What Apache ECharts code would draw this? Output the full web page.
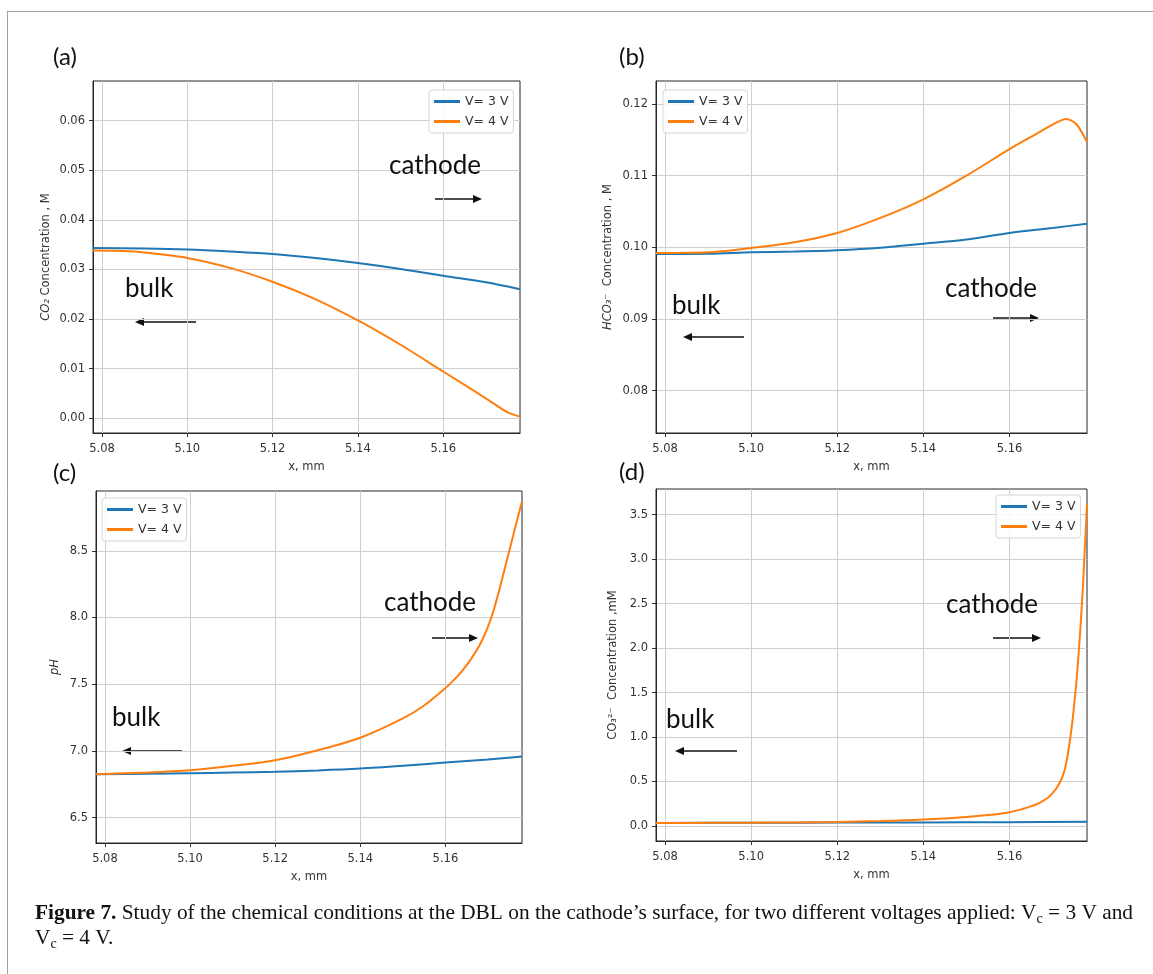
<!DOCTYPE html>
<html><head><meta charset="utf-8">
<script src="https://cdn.jsdelivr.net/npm/echarts@6/dist/echarts.min.js"></script>
<style>html,body{margin:0;padding:0;background:#fff}#c{width:1153px;height:974px}</style>
</head><body><div id="c"></div>
<script>
// ---------- data ----------
const X_TICKS = [5.08, 5.10, 5.12, 5.14, 5.16];
const A_TICKS = [0.00, 0.01, 0.02, 0.03, 0.04, 0.05, 0.06];
const B_TICKS = [0.08, 0.09, 0.10, 0.11, 0.12];
const C_TICKS = [6.5, 7.0, 7.5, 8.0, 8.5];
const D_TICKS = [0.0, 0.5, 1.0, 1.5, 2.0, 2.5, 3.0, 3.5];
const SERIES_NAMES = ['V= 3 V', 'V= 4 V'];

// (a) CO2 concentration, M
const xA3 = [5.0779, 5.09, 5.10, 5.11, 5.12, 5.13, 5.14, 5.15, 5.16, 5.17, 5.178];
const a3  = [0.0343, 0.0342, 0.0340, 0.0336, 0.0331, 0.0323, 0.0313, 0.0301, 0.0287, 0.0274, 0.0260];
const xA4 = [5.0779, 5.085, 5.09, 5.10, 5.11, 5.12, 5.13, 5.14, 5.15, 5.16, 5.17, 5.175, 5.178];
const a4  = [0.0338, 0.0337, 0.0334, 0.0323, 0.0303, 0.0275, 0.0240, 0.0197, 0.0148, 0.0094, 0.0040, 0.0012, 0.0003];

// (b) HCO3- concentration, M
const xB3 = [5.0779, 5.09, 5.10, 5.11, 5.12, 5.13, 5.14, 5.15, 5.16, 5.17, 5.178];
const b3  = [0.09907, 0.0991, 0.0993, 0.0994, 0.0996, 0.09995, 0.1005, 0.1011, 0.1020, 0.1027, 0.1033];
const xB4 = [5.0779, 5.09, 5.10, 5.11, 5.12, 5.13, 5.14, 5.15, 5.16, 5.165, 5.17, 5.172, 5.1731, 5.1755, 5.178];
const b4  = [0.0992, 0.0993, 0.0999, 0.1007, 0.1020, 0.1041, 0.1067, 0.1100, 0.1137, 0.1154, 0.1171, 0.1177, 0.1179, 0.1172, 0.1147];

// (c) pH
const xC3 = [5.0779, 5.09, 5.10, 5.11, 5.12, 5.13, 5.14, 5.15, 5.16, 5.17, 5.178];
const c3  = [6.825, 6.828, 6.832, 6.837, 6.843, 6.853, 6.867, 6.888, 6.912, 6.935, 6.957];
const xC4 = [5.0779, 5.09, 5.10, 5.11, 5.12, 5.13, 5.14, 5.15, 5.155, 5.16, 5.162, 5.164, 5.166, 5.168, 5.169, 5.170, 5.171, 5.172, 5.173, 5.174, 5.175, 5.176, 5.177, 5.178];
const c4  = [6.825, 6.838, 6.855, 6.888, 6.93, 7.005, 7.098, 7.243, 7.34, 7.47, 7.532, 7.602, 7.688, 7.79, 7.855, 7.93, 8.02, 8.128, 8.248, 8.373, 8.498, 8.623, 8.748, 8.87];

// (d) CO3 2- concentration, mM
const xD3 = [5.0779, 5.10, 5.12, 5.14, 5.16, 5.178];
const d3  = [0.034, 0.036, 0.038, 0.040, 0.043, 0.046];
const xD4 = [5.0779, 5.09, 5.10, 5.11, 5.12, 5.13, 5.14, 5.15, 5.155, 5.16, 5.163, 5.165, 5.167, 5.169, 5.170, 5.171, 5.172, 5.1725, 5.173, 5.1735, 5.174, 5.1745, 5.175, 5.1755, 5.176, 5.1765, 5.177, 5.1775, 5.178];
const d4  = [0.034, 0.035, 0.037, 0.040, 0.045, 0.055, 0.072, 0.100, 0.122, 0.155, 0.19, 0.22, 0.26, 0.32, 0.37, 0.43, 0.52, 0.58, 0.67, 0.79, 0.95, 1.13, 1.35, 1.60, 1.90, 2.25, 2.65, 3.12, 3.62];

const X_RANGE = [5.0779, 5.178];
const Y_RANGES = [[-0.003, 0.068], [0.0741, 0.1232], [6.309, 8.948], [-0.169, 3.788]];

// ---------- styling ----------
const FONT = 'DejaVu Sans';
const ANNOT_FONT = 'Lato';
const BLUE = '#1f77b4', ORANGE = '#ff7f0e';
const TICK_FS = 11.5;

const grids = [
  {left: 93,  top: 81,  width: 427, height: 352},
  {left: 656, top: 81,  width: 431, height: 352},
  {left: 96,  top: 491, width: 426, height: 352},
  {left: 656, top: 489, width: 431, height: 352}
].map(g => Object.assign(g, {show: true, borderColor: '#262626', borderWidth: 1, backgroundColor: '#fff'}));

function xAxisFor(i) {
  return {
    type: 'value', gridIndex: i, min: X_RANGE[0], max: X_RANGE[1],
    name: 'x, mm', nameLocation: 'middle', nameGap: 28,
    nameTextStyle: {fontSize: TICK_FS, color: '#333', fontFamily: FONT},
    axisLine: {show: true, onZero: false, lineStyle: {color: '#262626'}},
    axisTick: {show: true, length: 4, customValues: X_TICKS, lineStyle: {color: '#333'}},
    axisLabel: {customValues: X_TICKS, formatter: v => v.toFixed(2), margin: 10, fontSize: TICK_FS, color: '#333', fontFamily: FONT},
    splitLine: {show: true, lineStyle: {color: '#cfcfcf', width: 1}}
  };
}
function yAxisFor(i, ticks, dec, name, gap, rich) {
  return {
    type: 'value', gridIndex: i, min: Y_RANGES[i][0], max: Y_RANGES[i][1],
    name: name, nameLocation: 'middle', nameGap: gap, nameRotate: 90,
    nameTextStyle: {fontSize: TICK_FS, color: '#333', fontFamily: FONT, rich: rich || {}},
    axisLine: {show: true, onZero: false, lineStyle: {color: '#262626'}},
    axisTick: {show: true, length: 4, customValues: ticks, lineStyle: {color: '#333'}},
    axisLabel: {customValues: ticks, formatter: v => v.toFixed(dec), margin: 8, fontSize: TICK_FS, color: '#333', fontFamily: FONT},
    splitLine: {show: true, lineStyle: {color: '#cfcfcf', width: 1}}
  };
}
const italic = {i: {fontStyle: 'italic', fontSize: TICK_FS, color: '#333', fontFamily: FONT}};

function pairs(xs, ys) { return xs.map((x, k) => [x, ys[k]]); }
function line(i, name, xs, ys, color) {
  return {
    type: 'line', name: name, xAxisIndex: i, yAxisIndex: i, data: pairs(xs, ys),
    showSymbol: false, symbol: 'none', smooth: 0.3,
    lineStyle: {color: color, width: 2}, itemStyle: {color: color}, z: 3
  };
}
function legendAt(left, top) {
  return {
    data: SERIES_NAMES, left: left, top: top, orient: 'vertical',
    icon: 'rect', itemWidth: 26, itemHeight: 3, itemGap: 7, itemTextGap: 6,
    padding: [5, 5, 5, 5], backgroundColor: 'rgba(255,255,255,0.85)',
    borderColor: '#d6d6d6', borderWidth: 1, borderRadius: 3,
    textStyle: {fontSize: 12.5, color: '#333', fontFamily: FONT}, selectedMode: false
  };
}

function arrow(x1, y1, x2, y2) {
  const dir = Math.sign(x2 - x1);
  const hl = 9, hw = 4;
  return {
    type: 'group', children: [
      {type: 'line', shape: {x1: x1, y1: y1, x2: x2 - dir * hl * 0.6, y2: y2}, style: {stroke: '#111', lineWidth: 1.6}},
      {type: 'polygon', shape: {points: [[x2, y2], [x2 - dir * hl, y2 - hw], [x2 - dir * hl, y2 + hw]]}, style: {fill: '#111'}}
    ]
  };
}
function txtXY(x, y, s, size) {
  return {type: 'text', x: x, y: y, style: {text: s, fontSize: size, fontFamily: ANNOT_FONT, fill: '#111', verticalAlign: 'middle', align: 'left'}};
}

const graphics = [
  {type: 'line', shape: {x1: 7, y1: 11.5, x2: 1153, y2: 11.5}, style: {stroke: '#a0a0a0', lineWidth: 1}},
  {type: 'line', shape: {x1: 7.5, y1: 11, x2: 7.5, y2: 974}, style: {stroke: '#a0a0a0', lineWidth: 1}},
  txtXY(53, 57, '(a)', 24), txtXY(619, 57, '(b)', 24), txtXY(53, 473, '(c)', 24), txtXY(619, 472, '(d)', 24),
  txtXY(389, 166, 'cathode', 26), txtXY(125, 289, 'bulk', 26),
  arrow(435, 199, 482, 199), arrow(196, 322, 135, 322),
  txtXY(945, 289, 'cathode', 26), txtXY(672, 306, 'bulk', 26),
  arrow(993, 318, 1039, 318), arrow(744, 337, 683, 337),
  txtXY(384, 603, 'cathode', 26), txtXY(112, 718, 'bulk', 26),
  arrow(432, 638, 478, 638), arrow(182, 751, 122, 751),
  txtXY(946, 605, 'cathode', 26), txtXY(666, 720, 'bulk', 26),
  arrow(993, 638, 1041, 638), arrow(737, 751, 675, 751),
  {type: 'text', x: 35, y: 901, style: {
    text: '{b|Figure 7.} Study of the chemical conditions at the DBL on the cathode’s surface, for two different voltages applied: V{s|c} = 3 V and\nV{s|c} = 4 V.',
    fontSize: 21.35, fontFamily: 'Liberation Serif', fill: '#111', lineHeight: 25, verticalAlign: 'top',
    rich: {
      b: {fontWeight: 'bold', fontSize: 21.35, fontFamily: 'Liberation Serif', fill: '#111', lineHeight: 25},
      s: {fontSize: 14, fontFamily: 'Liberation Serif', fill: '#111', lineHeight: 15, verticalAlign: 'bottom'}
    }
  }}
].map(g => Object.assign(g, {z: 100}));

const option = {
  backgroundColor: '#fff',
  animation: false,
  grid: grids,
  xAxis: [0, 1, 2, 3].map(xAxisFor),
  yAxis: [
    yAxisFor(0, A_TICKS, 2, '{i|CO₂} Concentration , M', 41, italic),
    yAxisFor(1, B_TICKS, 2, '{i|HCO₃⁻}  Concentration , M', 42, italic),
    yAxisFor(2, C_TICKS, 1, '{i|pH}', 35, italic),
    yAxisFor(3, D_TICKS, 1, 'CO₃²⁻  Concentration ,mM', 37)
  ],
  legend: [legendAt(429, 90), legendAt(663, 90), legendAt(102, 498), legendAt(996, 495)],
  series: [
    line(0, SERIES_NAMES[0], xA3, a3, BLUE), line(0, SERIES_NAMES[1], xA4, a4, ORANGE),
    line(1, SERIES_NAMES[0], xB3, b3, BLUE), line(1, SERIES_NAMES[1], xB4, b4, ORANGE),
    line(2, SERIES_NAMES[0], xC3, c3, BLUE), line(2, SERIES_NAMES[1], xC4, c4, ORANGE),
    line(3, SERIES_NAMES[0], xD3, d3, BLUE), line(3, SERIES_NAMES[1], xD4, d4, ORANGE)
  ],
  graphic: graphics
};
const chart = echarts.init(document.getElementById('c'), null, {renderer: 'canvas'});
chart.setOption(option);
</script></body></html>
